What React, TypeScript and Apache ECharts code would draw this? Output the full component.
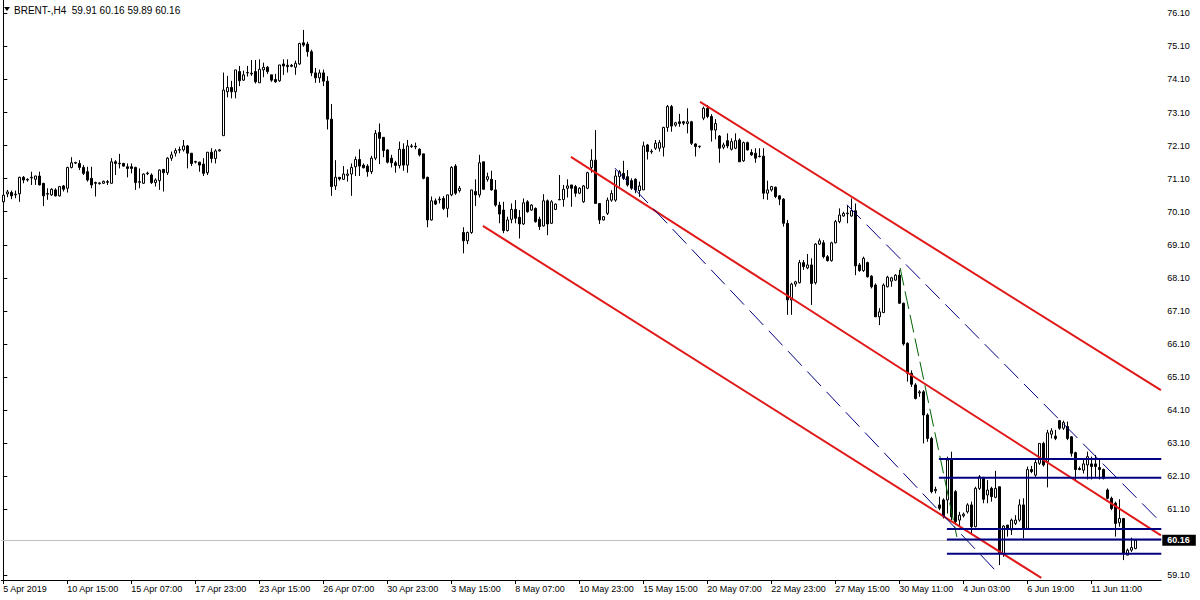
import React, { useEffect, useRef } from 'react';
import * as echarts from 'echarts';

const tickLabels = [
  '5 Apr 2019', '10 Apr 15:00', '15 Apr 07:00', '17 Apr 23:00', '23 Apr 15:00', '26 Apr 07:00',
  '30 Apr 23:00', '3 May 15:00', '8 May 07:00', '10 May 23:00', '15 May 15:00', '20 May 07:00',
  '22 May 23:00', '27 May 15:00', '30 May 11:00', '4 Jun 03:00', '6 Jun 19:00', '11 Jun 11:00',
];

const priceTicks = [76.1, 75.1, 74.1, 73.1, 72.1, 71.1, 70.1, 69.1, 68.1, 67.1, 66.1, 65.1, 64.1, 63.1, 62.1, 61.1, 59.1];

// [open, close, low, high]
const candles = [
  [70.40, 70.60, 70.35, 70.66], [70.64, 70.70, 70.54, 70.76], [70.68, 70.58, 70.48, 70.74], [70.61, 70.63, 70.51, 70.74],
  [70.64, 71.14, 70.40, 71.16], [71.14, 71.06, 70.96, 71.18], [71.06, 71.08, 71.01, 71.11], [71.12, 71.14, 70.91, 71.31],
  [71.08, 71.18, 70.91, 71.19], [71.18, 70.91, 70.90, 71.31], [70.96, 70.58, 70.27, 70.97], [70.63, 70.65, 70.46, 70.81],
  [70.61, 70.78, 70.58, 70.81], [70.76, 70.58, 70.56, 70.81], [70.58, 70.86, 70.56, 70.88], [70.88, 70.78, 70.71, 70.91],
  [70.81, 71.44, 70.68, 71.46], [71.44, 71.58, 71.41, 71.75], [71.57, 71.59, 71.54, 71.61], [71.56, 71.44, 71.36, 71.66],
  [71.44, 71.26, 71.21, 71.51], [71.31, 71.06, 71.01, 71.46], [71.11, 70.91, 70.81, 71.46], [70.98, 70.96, 70.56, 71.01],
  [70.95, 70.97, 70.92, 70.99], [70.96, 71.02, 70.94, 71.04], [71.01, 70.99, 70.91, 71.06], [70.96, 71.61, 70.95, 71.72],
  [71.61, 71.56, 71.21, 71.66], [71.55, 71.57, 71.41, 71.85], [71.56, 71.48, 71.46, 71.58], [71.46, 71.41, 71.14, 71.56],
  [71.46, 71.41, 71.26, 71.56], [71.44, 70.98, 70.76, 71.46], [70.99, 71.01, 70.81, 71.41], [70.96, 71.24, 70.94, 71.26],
  [71.25, 71.27, 71.21, 71.31], [71.21, 70.98, 70.94, 71.26], [70.98, 71.06, 70.86, 71.11], [71.04, 71.36, 70.76, 71.38],
  [71.38, 71.28, 70.71, 71.38], [71.28, 71.72, 71.21, 71.75], [71.72, 71.82, 71.64, 71.92], [71.87, 71.95, 71.77, 72.02],
  [71.96, 71.98, 71.87, 72.07], [71.97, 72.09, 71.92, 72.27], [72.09, 71.87, 71.41, 72.12], [71.87, 71.56, 71.48, 71.87],
  [71.60, 71.62, 71.56, 71.64], [71.60, 71.51, 71.31, 71.61], [71.54, 71.26, 71.18, 71.72], [71.28, 71.90, 71.21, 71.90],
  [71.90, 71.71, 71.58, 72.02], [71.71, 71.94, 71.56, 71.99], [71.94, 71.97, 71.92, 72.00], [72.40, 73.78, 72.40, 74.31],
  [73.73, 73.86, 73.56, 74.21], [73.86, 73.73, 73.53, 74.06], [73.73, 74.39, 73.53, 74.39], [74.34, 74.06, 73.90, 74.51],
  [74.08, 74.24, 74.06, 74.37], [74.30, 74.31, 74.19, 74.51], [74.29, 74.27, 74.21, 74.69], [74.34, 74.03, 73.98, 74.69],
  [74.00, 74.41, 74.00, 74.71], [74.39, 74.47, 74.17, 74.61], [74.47, 74.34, 74.27, 74.51], [74.24, 74.08, 74.03, 74.24],
  [74.10, 74.03, 74.00, 74.27], [74.06, 74.54, 74.03, 74.54], [74.57, 74.51, 74.24, 74.71], [74.53, 74.49, 74.31, 74.71],
  [74.53, 74.50, 74.47, 74.57], [74.47, 74.59, 74.24, 74.67], [74.57, 75.19, 74.54, 75.21], [75.21, 75.14, 75.09, 75.60],
  [75.17, 74.94, 74.79, 75.24], [74.94, 74.30, 74.20, 75.00], [74.30, 74.15, 74.00, 74.45], [74.15, 74.30, 74.00, 74.40],
  [74.30, 74.05, 73.90, 74.40], [74.05, 72.90, 72.59, 74.20], [72.90, 70.86, 70.58, 73.36], [70.88, 71.14, 70.76, 71.66],
  [71.14, 71.09, 71.04, 71.14], [71.08, 71.24, 71.06, 71.48], [71.20, 71.24, 71.01, 71.38], [71.24, 71.44, 70.58, 71.56],
  [71.46, 71.68, 71.18, 71.77], [71.68, 71.48, 71.18, 71.99], [71.51, 71.43, 71.41, 71.56], [71.48, 71.31, 71.16, 71.54],
  [71.31, 71.72, 71.24, 71.79], [71.72, 72.47, 71.66, 72.57], [72.50, 72.32, 71.54, 72.77], [72.35, 71.95, 71.75, 72.35],
  [71.97, 71.60, 71.56, 71.99], [71.72, 71.58, 71.44, 71.82], [71.58, 71.50, 71.28, 71.64], [71.50, 71.99, 71.41, 72.22],
  [71.99, 71.51, 71.34, 72.17], [71.51, 72.09, 71.28, 72.27], [72.07, 72.09, 72.03, 72.15], [72.08, 72.06, 71.99, 72.19],
  [71.99, 71.82, 71.77, 72.02], [71.85, 71.11, 71.08, 71.85], [71.14, 69.85, 69.63, 71.16], [69.85, 70.43, 69.83, 70.56],
  [70.43, 70.33, 70.30, 70.50], [70.46, 70.48, 70.35, 70.56], [70.50, 70.20, 70.15, 70.57], [70.20, 70.61, 69.93, 70.61],
  [70.61, 71.44, 70.57, 71.48], [71.48, 70.66, 70.61, 71.54], [70.74, 70.81, 70.68, 70.88], [69.47, 69.22, 68.84, 69.63],
  [69.22, 69.47, 69.12, 69.50], [69.47, 70.76, 69.43, 70.76], [70.71, 70.61, 70.27, 71.08], [70.61, 71.58, 70.53, 71.82],
  [71.61, 70.78, 70.76, 71.61], [71.08, 71.16, 71.01, 71.28], [71.08, 70.76, 70.74, 71.34], [70.76, 70.30, 70.25, 71.06],
  [70.30, 70.03, 69.75, 70.40], [70.15, 69.53, 69.45, 70.40], [69.53, 69.85, 69.50, 69.95], [69.87, 70.17, 69.75, 70.35],
  [70.17, 69.90, 69.75, 70.45], [69.93, 69.73, 69.29, 70.15], [69.73, 70.37, 69.70, 70.50], [70.40, 70.10, 70.07, 70.45],
  [70.15, 70.30, 70.13, 70.33], [70.20, 69.80, 69.77, 70.23], [69.87, 69.65, 69.55, 69.95], [69.67, 70.43, 69.65, 70.63],
  [70.43, 69.73, 69.39, 70.47], [69.75, 70.40, 69.73, 70.45], [70.17, 70.33, 70.15, 70.35], [70.46, 70.47, 70.45, 71.21],
  [70.47, 70.78, 70.25, 70.91], [70.81, 70.88, 70.53, 71.08], [70.91, 70.81, 70.25, 70.91], [70.86, 70.66, 70.55, 70.91],
  [70.66, 70.81, 70.63, 70.84], [70.40, 70.88, 70.37, 70.91], [70.81, 71.28, 70.78, 71.31], [71.44, 71.66, 71.28, 71.99],
  [71.66, 70.35, 70.35, 72.57], [70.35, 69.85, 69.73, 70.35], [69.85, 69.95, 69.83, 69.97], [70.05, 70.45, 70.00, 70.53],
  [70.45, 70.65, 70.40, 70.75], [70.45, 71.18, 70.40, 71.36], [71.16, 71.31, 70.86, 71.36], [71.26, 71.11, 71.06, 71.64],
  [71.16, 70.91, 70.86, 71.36], [71.04, 70.81, 70.76, 71.11], [71.08, 70.76, 70.66, 71.11], [70.74, 70.88, 70.55, 71.01],
  [70.76, 72.09, 70.76, 72.22], [72.12, 71.92, 71.68, 72.15], [71.91, 71.93, 71.85, 71.99], [72.02, 72.17, 71.97, 72.27],
  [72.02, 72.19, 71.92, 72.27], [72.05, 72.65, 71.77, 72.67], [72.65, 73.28, 72.52, 73.33], [73.28, 72.69, 72.52, 73.33],
  [72.72, 72.79, 72.67, 72.82], [72.82, 72.77, 72.67, 73.06], [72.82, 72.78, 72.72, 72.85], [72.77, 72.82, 72.47, 73.23],
  [72.82, 72.17, 72.12, 72.85], [72.15, 72.07, 71.77, 72.17], [72.07, 72.08, 72.02, 72.10], [72.93, 73.23, 72.87, 73.28],
  [73.23, 72.98, 72.93, 73.33], [72.98, 72.57, 72.22, 73.05], [72.57, 72.77, 72.29, 72.90], [72.39, 72.02, 71.58, 72.42],
  [72.05, 72.12, 71.99, 72.19], [72.25, 72.09, 72.02, 72.47], [71.99, 72.22, 71.95, 72.32], [72.02, 72.25, 71.99, 72.47],
  [72.27, 71.61, 71.61, 72.32], [71.64, 72.19, 71.61, 72.22], [72.19, 71.97, 71.95, 72.22], [71.89, 71.82, 71.79, 71.99],
  [71.87, 71.72, 71.58, 72.02], [71.78, 71.77, 71.74, 72.02], [71.78, 70.66, 70.48, 72.02], [70.66, 70.76, 70.46, 71.04],
  [70.76, 70.86, 70.71, 70.88], [70.84, 70.56, 70.51, 70.86], [70.58, 70.48, 70.30, 70.60], [70.48, 69.75, 69.65, 70.51],
  [69.75, 67.43, 66.98, 69.85], [67.43, 67.91, 66.98, 67.95], [67.91, 67.98, 67.83, 68.01], [67.95, 68.56, 67.93, 68.64],
  [68.56, 68.44, 68.34, 68.64], [68.40, 68.49, 68.36, 68.82], [68.49, 67.93, 67.28, 68.69], [67.95, 69.12, 67.90, 69.15],
  [69.12, 69.22, 69.09, 69.29], [69.16, 68.74, 68.69, 69.24], [68.74, 68.62, 68.59, 68.79], [68.62, 69.16, 68.59, 69.19],
  [69.16, 69.80, 69.14, 69.85], [69.80, 70.00, 69.75, 70.20], [69.97, 70.05, 69.95, 70.10], [70.04, 70.06, 69.75, 70.30],
  [69.97, 70.13, 69.95, 70.50], [70.13, 68.46, 68.18, 70.35], [68.49, 68.32, 68.28, 68.55], [68.32, 68.69, 68.28, 68.74],
  [68.56, 68.13, 68.11, 68.59], [68.15, 67.83, 67.78, 68.18], [67.88, 66.92, 66.92, 67.93], [66.92, 67.07, 66.67, 67.18],
  [67.05, 67.88, 67.03, 67.93], [67.83, 68.12, 67.81, 68.16], [68.00, 68.10, 67.83, 68.13], [68.03, 68.18, 68.01, 68.21],
  [68.18, 67.33, 67.33, 68.34], [67.33, 66.10, 66.05, 67.35], [66.12, 65.21, 64.96, 66.15], [65.21, 64.88, 64.80, 65.30],
  [64.86, 64.45, 64.42, 64.91], [64.62, 64.65, 64.50, 64.70], [64.65, 63.95, 63.09, 64.70], [63.95, 63.24, 63.14, 64.00],
  [63.24, 61.63, 61.58, 63.29], [61.66, 61.70, 61.58, 61.78], [61.23, 61.13, 61.07, 61.48], [61.38, 60.87, 60.82, 61.43],
  [61.38, 62.59, 60.97, 62.69], [62.59, 60.87, 60.77, 62.84], [61.63, 60.72, 60.67, 61.68], [60.77, 60.92, 60.57, 61.02],
  [60.90, 60.95, 60.85, 61.00], [61.02, 61.23, 60.97, 61.28], [61.23, 60.57, 60.37, 61.33], [60.57, 61.73, 60.55, 61.78],
  [61.73, 62.08, 61.68, 62.13], [62.03, 61.40, 61.28, 62.08], [61.53, 61.68, 61.28, 61.98], [61.73, 61.48, 61.33, 61.78],
  [61.46, 61.73, 61.43, 62.26], [61.78, 59.76, 59.41, 61.78], [59.76, 60.59, 59.66, 60.62], [60.62, 60.52, 60.27, 60.62],
  [60.47, 60.77, 60.32, 60.82], [60.67, 60.77, 60.62, 60.92], [60.77, 61.23, 60.72, 61.40], [61.23, 60.52, 60.22, 61.43],
  [60.52, 62.30, 60.47, 62.39], [62.30, 62.24, 62.19, 62.41], [62.13, 62.51, 62.08, 62.59], [62.49, 63.09, 62.44, 63.09],
  [63.09, 62.44, 62.39, 63.14], [62.54, 63.41, 61.76, 63.50], [63.37, 63.47, 63.24, 63.55], [63.31, 63.24, 63.19, 63.50],
  [63.78, 63.55, 63.50, 63.80], [63.55, 63.72, 63.50, 63.78], [63.60, 63.24, 63.19, 63.75], [63.29, 62.79, 62.69, 63.31],
  [62.81, 62.30, 61.98, 62.84], [62.33, 62.30, 62.28, 62.39], [62.28, 62.47, 62.18, 62.59], [62.44, 62.69, 62.00, 62.84],
  [62.47, 62.39, 62.00, 62.69], [62.47, 62.39, 62.08, 62.74], [62.36, 62.30, 62.00, 62.59], [62.30, 62.03, 62.00, 62.33],
  [61.68, 61.43, 61.40, 61.73], [61.43, 61.12, 61.07, 61.48], [61.28, 60.67, 60.27, 61.33], [60.69, 60.82, 60.57, 61.40],
  [60.82, 59.76, 59.56, 60.82], [59.71, 59.86, 59.71, 59.91], [59.86, 59.94, 59.81, 60.24], [59.91, 60.16, 59.89, 60.16],
];

// trend objects: [[barIndex, price], [barIndex, price]]
const redChannel = [
  [[174.2, 73.42], [289.4, 64.70]],
  [[141.9, 71.76], [289.4, 60.31]],
  [[119.9, 69.67], [259.5, 59.02]],
];
const blueDashed = [
  [[152.9, 71.42], [248.4, 59.20]],
  [[210.9, 70.31], [289.4, 60.70]],
];
const greenDashed = [[224.2, 68.40], [238.4, 60.26]];
const levelPrices = [62.62, 62.05, 60.50, 60.18, 59.75];
const levelStarts = [233.9, 233.9, 235.9, 235.9, 235.9];
const lastPrice = 60.16;
const headerText = 'BRENT-,H4\u00a0\u00a059.91 60.16 59.89 60.16';

const SLOTS = 290;
const FONT = 'Liberation Sans';

export default function App() {
  const ref = useRef<HTMLDivElement>(null);
  useEffect(() => {
    if (!ref.current) return;
    const chart = echarts.init(ref.current, undefined, { renderer: 'svg' });
    const categories = Array.from({ length: SLOTS }, (_, i) => String(i));
    const lineSeries = (pts: number[][], color: string, width: number, type: any) => ({
      type: 'line',
      xAxisIndex: 1,
      data: pts,
      showSymbol: false,
      symbol: 'none',
      silent: true,
      lineStyle: { color, width, type },
      z: 3,
    });
    const series: any[] = [
      {
        type: 'candlestick',
        data: candles,
        barWidth: 2,
        itemStyle: { color: '#ffffff', color0: '#000000', borderColor: '#000000', borderColor0: '#000000', borderWidth: 1 },
        z: 2,
        markLine: {
          silent: true,
          symbol: ['none', 'none'],
          lineStyle: { color: '#c0c0c0', width: 1, type: 'solid' },
          data: [{ yAxis: lastPrice }],
          z: 1,
          label: {
            show: true,
            position: 'end',
            distance: 1,
            formatter: lastPrice.toFixed(2),
            color: '#ffffff',
            backgroundColor: '#000000',
            padding: [1, 6, 1, 5],
            fontFamily: FONT,
            fontSize: 9,
            fontWeight: 'bold',
          },
        },
      },
    ];
    redChannel.forEach((l) => series.push(lineSeries(l, '#e01818', 2, 'solid')));
    blueDashed.forEach((l) => series.push(lineSeries(l, '#000080', 1, [20, 8])));
    series.push(lineSeries(greenDashed, '#006400', 1, [18, 6]));
    levelPrices.forEach((p, k) => series.push(lineSeries([[levelStarts[k], p], [SLOTS - 0.5, p]], '#000080', 2, 'solid')));

    chart.setOption({
      animation: false,
      backgroundColor: '#ffffff',
      grid: { left: 1.3, top: 0, width: 1160, height: 580, outerBoundsMode: 'none' } as any,
      xAxis: [
        {
          type: 'category',
          data: categories,
          boundaryGap: true,
          axisLine: { show: true, lineStyle: { color: '#000000', width: 1 } },
          axisTick: { show: true, alignWithLabel: true, interval: (i: number) => i % 16 === 0 && i / 16 < tickLabels.length, length: 4, lineStyle: { color: '#000000' } },
          axisLabel: {
            interval: (i: number) => i % 16 === 0 && i / 16 < tickLabels.length,
            formatter: (_v: string, i: number) => tickLabels[i / 16] ?? '',
            align: 'left',
            margin: 4,
            fontFamily: FONT,
            fontSize: 9,
            color: '#000000',
          },
          splitLine: { show: false },
        },
        { type: 'value', min: -0.5, max: SLOTS - 0.5, show: false },
      ],
      yAxis: {
        type: 'value',
        position: 'right',
        min: 58.958,
        max: 76.505,
        scale: true,
        axisLine: { show: true, lineStyle: { color: '#000000', width: 1 } },
        axisTick: { show: true, customValues: priceTicks, length: 4, lineStyle: { color: '#000000' } },
        axisLabel: {
          customValues: priceTicks,
          formatter: (v: number) => v.toFixed(2),
          margin: 6,
          fontFamily: FONT,
          fontSize: 9,
          color: '#000000',
        },
        splitLine: { show: false },
      },
      graphic: [
        { type: 'polygon', shape: { points: [[4, 7], [10, 7], [7, 11]] }, style: { fill: '#000000' } },
        { type: 'text', x: 14, y: 5, style: { text: headerText, font: `10px "${FONT}"`, fill: '#000000' } },
      ],
      series,
    });
    return () => chart.dispose();
  }, []);
  return <div ref={ref} style={{ position: 'fixed', left: 0, top: 0, width: 1200, height: 600 }} />;
}
